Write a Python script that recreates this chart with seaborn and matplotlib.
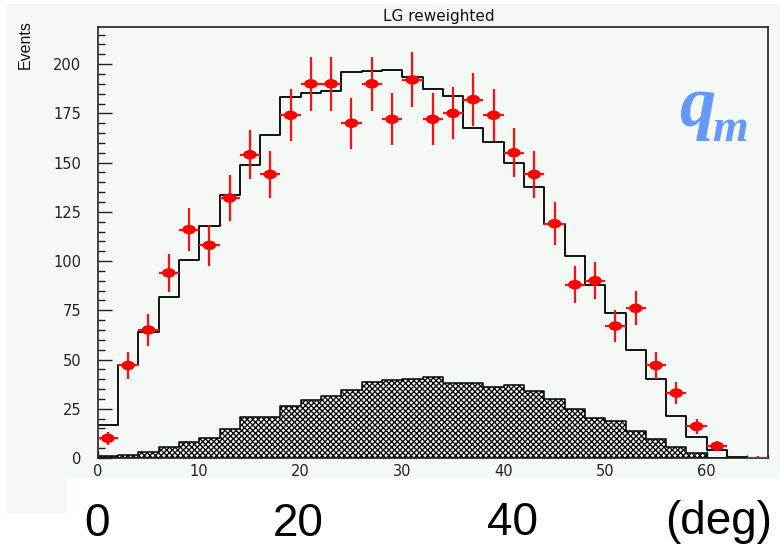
import numpy as np
import pandas as pd
import matplotlib
matplotlib.use("Agg")
import matplotlib.pyplot as plt
import seaborn as sns
from matplotlib.patches import Rectangle
from matplotlib.path import Path
from matplotlib.ticker import MultipleLocator

# ---------------- data ----------------
bin_edges = [0, 2, 4, 6, 8, 10, 12, 14, 16, 18, 20, 22, 24, 26, 28, 30, 32,
             34, 36, 38, 40, 42, 44, 46, 48, 50, 52, 54, 56, 58, 60, 62, 64, 66]
angle = [1, 3, 5, 7, 9, 11, 13, 15, 17, 19, 21, 23, 25, 27, 29, 31, 33,
         35, 37, 39, 41, 43, 45, 47, 49, 51, 53, 55, 57, 59, 61, 63, 65]
mc_events = [17, 47, 64, 82, 100.5, 118, 133.5, 149, 164, 183.5, 185.5, 186.5,
             196, 196.7, 196.8, 193.5, 187.5, 184, 167.5, 160.5, 150, 137.5,
             119, 102.5, 88, 73.5, 55, 40, 21.3, 10.8, 4, 0.4, 0]
bg_events = [0.8, 1.7, 3, 5.4, 8.3, 10.3, 14.5, 20.6, 20.6, 26.4, 29.4, 31.6,
             34.3, 38.6, 39.7, 40.3, 41.3, 38.2, 38.2, 36.2, 36.9, 34.2, 29.9,
             24.7, 20.4, 18.9, 13.5, 9.8, 5.8, 2.4, 0, 0, 0]
data_events = [10, 47, 65, 94, 116, 108, 132, 154, 144, 174, 190, 190, 170,
               190, 172, 192, 172, 175, 182, 174, 155, 144, 119, 88, 90, 67,
               76, 47, 33, 16, 6, np.nan, 0]
data_err = [3.2, 6.9, 8.1, 9.7, 10.8, 10.4, 11.5, 12.4, 12.0, 13.2, 13.8, 13.8,
            13.0, 13.8, 13.1, 13.9, 13.1, 13.2, 13.5, 13.2, 12.4, 12.0, 10.9,
            9.4, 9.5, 8.2, 8.7, 6.9, 5.7, 4.0, 2.4, np.nan, 1.0]
half_bin = [1] * len(angle)

title = "LG reweighted"
ylabel = "Events"
big_labels = ["0", "20", "40", "(deg)"]

# ---------------- style ----------------
sns.set_theme(style="ticks")
plt.rcParams['font.family'] = ['DejaVu Sans']
plt.rcParams['hatch.linewidth'] = 0.9

W, H = 780, 547
pale = '#f4f9f6'
fig = plt.figure(figsize=(W / 100, H / 100), dpi=100, facecolor='white')

fig.patches.append(Rectangle((6 / W, 1 - 478 / H), 1 - 6 / W, (478 - 4) / H,
                             transform=fig.transFigure, facecolor=pale,
                             edgecolor='none', zorder=-10))
fig.patches.append(Rectangle((6 / W, 1 - 513 / H), (66.7 - 6) / W, (513 - 478) / H,
                             transform=fig.transFigure, facecolor=pale,
                             edgecolor='none', zorder=-10))

ax = fig.add_axes([97.7 / W, 1 - 458 / H, (767.7 - 97.7) / W, (458 - 26.7) / H])
ax.set_facecolor(pale)

df = pd.DataFrame({'angle': angle, 'mc': mc_events, 'bg': bg_events,
                   'data': data_events})

# hatched background histogram
sns.histplot(data=df, x='angle', weights='bg', bins=bin_edges, element='step',
             fill=True, facecolor='#f0f0f0', edgecolor='black', linewidth=1.1,
             alpha=1, ax=ax)
ax.collections[-1].set_hatch('xxxxxx')

# MC histogram
sns.histplot(data=df, x='angle', weights='mc', bins=bin_edges, element='step',
             fill=False, color='black', linewidth=1.3, ax=ax)

# data points with error bars
ax.errorbar(angle, data_events, yerr=data_err, xerr=half_bin, fmt='none',
            ecolor='#ff1010', elinewidth=1.6, capsize=0, zorder=4)
circ = Path.unit_circle()
ellipse = Path(circ.vertices * np.array([1.0, 0.7]), circ.codes)
nonzero = df[df['data'] > 0]
sns.scatterplot(data=nonzero, x='angle', y='data', marker=ellipse, s=95,
                color='#ff0000', edgecolor='none', linewidth=0, zorder=5, ax=ax)

ax.set_xlim(0, 66)
ax.set_ylim(0, 219)
ax.set_xlabel('')
ax.set_ylabel('')

ax.xaxis.set_major_locator(MultipleLocator(10))
ax.xaxis.set_minor_locator(MultipleLocator(2))
ax.yaxis.set_major_locator(MultipleLocator(25))
ax.yaxis.set_minor_locator(MultipleLocator(5))
ax.tick_params(axis='y', which='major', direction='in', length=10, width=1,
               color='#222222', labelsize=10.5, labelcolor='#222222', pad=12)
ax.tick_params(axis='y', which='minor', direction='in', length=5, width=1,
               color='#222222')
ax.tick_params(axis='x', which='major', direction='in', length=5, width=1,
               color='#222222', labelsize=10.5, labelcolor='#222222', pad=4)
ax.tick_params(axis='x', which='minor', direction='in', length=2.5, width=1,
               color='#222222')
for s in ax.spines.values():
    s.set_visible(True)
    s.set_color('#222222')
    s.set_linewidth(1.2)

fig.text(438.7 / W, 1 - 17 / H, title, ha='center', va='center', fontsize=11,
         color='#111111')
fig.text(25 / W, 1 - 45 / H, ylabel, rotation=90, ha='center', va='center',
         fontsize=11.5, color='#111111', family=['Liberation Sans'])

# big axis labels below
big_x = [97.5, 298, 512, 719]
big_base = [536.5, 536.5, 535, 534]
for lab, xp, yb in zip(big_labels, big_x, big_base):
    fig.text(xp / W, 1 - yb / H, lab, ha='center', va='baseline', fontsize=33,
             color='black', family=['Liberation Sans'])

# q_m label
fig.text(679 / W, 1 - 126 / H, 'q', ha='left', va='baseline', fontsize=52,
         color='#6699ff', family=['Liberation Serif'], fontweight='bold',
         fontstyle='italic')
fig.text(712 / W, 1 - 141 / H, 'm', ha='left', va='baseline', fontsize=33,
         color='#6699ff', family=['Liberation Serif'], fontweight='bold',
         fontstyle='italic')

fig.savefig('out.png', dpi=100, facecolor=fig.get_facecolor())
